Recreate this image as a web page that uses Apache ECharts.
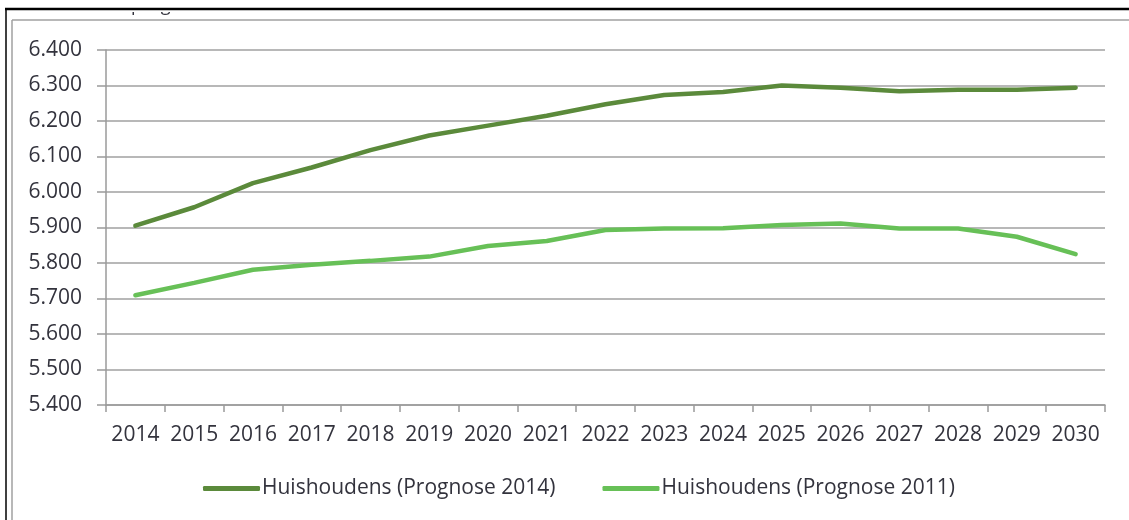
<!DOCTYPE html>
<html>
<head>
<meta charset="utf-8">
<script src="https://cdn.jsdelivr.net/npm/echarts@6/dist/echarts.min.js"></script>
<style>
html,body{margin:0;padding:0;background:#fff;}
#c{width:1129px;height:520px;}
</style>
</head>
<body>
<div id="c"></div>
<script>
const years = ['2014','2015','2016','2017','2018','2019','2020','2021','2022','2023','2024','2025','2026','2027','2028','2029','2030'];
const prognose2014 = [5905,5957,6025,6069,6118,6159,6187,6215,6247,6273,6282,6300,6294,6284,6288,6288,6294];
const prognose2011 = [5709,5744,5781,5795,5806,5818,5848,5862,5893,5897,5898,5907,5911,5897,5897,5874,5825];
const seriesNames = ['Huishoudens (Prognose 2014)','Huishoudens (Prognose 2011)'];
const yMin = 5400, yMax = 6400, yStep = 100;

const FONT = '"Open Sans", sans-serif';
const TXT = '#33333d';

const chart = echarts.init(document.getElementById('c'));
chart.setOption({
  animation: false,
  backgroundColor: '#fff',
  grid: {left: 106, right: 24, top: 50, bottom: 115, containLabel: false},
  legend: {
    left: 203, top: 478, padding: 0,
    itemWidth: 57, itemHeight: 5, itemGap: 47,
    icon: 'roundRect',
    textStyle: {fontFamily: FONT, fontSize: 21, color: TXT, padding: [0,0,0,-3]},
    data: seriesNames
  },
  xAxis: {
    type: 'category', data: years, boundaryGap: true,
    axisLine: {lineStyle: {color: '#9a9a9a', width: 1.5}},
    axisTick: {show: true, length: 7, lineStyle: {color: '#9a9a9a', width: 1.5}},
    axisLabel: {fontFamily: FONT, fontSize: 21, color: TXT, margin: 20, interval: 0}
  },
  yAxis: {
    type: 'value', min: yMin, max: yMax, interval: yStep,
    axisLine: {show: true, lineStyle: {color: '#9a9a9a', width: 1.5}},
    axisTick: {show: true, length: 9, lineStyle: {color: '#9a9a9a', width: 1.5}},
    splitLine: {lineStyle: {color: '#a0a0a0', width: 1.5}},
    axisLabel: {fontFamily: FONT, fontSize: 21, color: TXT, margin: 24,
      formatter: v => { const s = String(Math.round(v)); return s.slice(0, s.length-3) + '.' + s.slice(-3); }}
  },
  series: [
    {name: seriesNames[0], type: 'line', data: prognose2014, symbol: 'none',
     lineStyle: {width: 4.5, color: '#5b8a3b', cap: 'round'}, itemStyle: {color: '#5b8a3b'}},
    {name: seriesNames[1], type: 'line', data: prognose2011, symbol: 'none',
     lineStyle: {width: 4.5, color: '#67c057', cap: 'round'}, itemStyle: {color: '#67c057'}}
  ],
  graphic: [
    {type: 'text', left: 131, top: -3, z: 1,
     style: {text: 'p    g', font: '18px ' + FONT, fill: TXT}},
    {type: 'rect', shape: {x: 0, y: 0, width: 1129, height: 12}, z: 2, style: {fill: '#fff'}},
    {type: 'rect', shape: {x: 0, y: 20, width: 12, height: 500}, z: 2, style: {fill: '#fff'}},
    {type: 'line', shape: {x1: 5, y1: 9, x2: 1129, y2: 9}, z: 3, style: {stroke: '#000', lineWidth: 2.5}},
    {type: 'line', shape: {x1: 6, y1: 8, x2: 6, y2: 520}, z: 3, style: {stroke: '#000', lineWidth: 1.5}},
    {type: 'line', shape: {x1: 12, y1: 20, x2: 1129, y2: 20}, z: 3, style: {stroke: '#a0a0a0', lineWidth: 1.5}},
    {type: 'line', shape: {x1: 12, y1: 20, x2: 12, y2: 520}, z: 3, style: {stroke: '#a0a0a0', lineWidth: 1.5}}
  ]
});
</script>
</body>
</html>
